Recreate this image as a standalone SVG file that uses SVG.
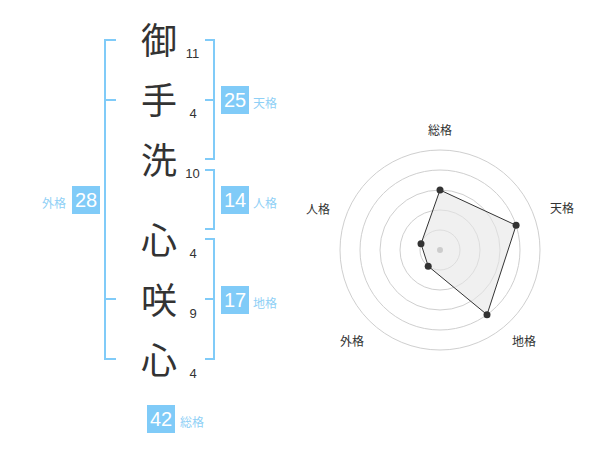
<svg xmlns="http://www.w3.org/2000/svg" width="600" height="470" viewBox="0 0 600 470">
<style>
.kj{font-family:"Noto Sans CJK JP","Noto Sans CJK SC",sans-serif;font-size:36px;fill:#333;text-anchor:middle}
.st{font-family:"Liberation Sans",Arial,sans-serif;font-size:13px;fill:#333;text-anchor:middle}
.br{fill:none;stroke:#80cbf8;stroke-width:2}
.box{fill:#80cbf8}
.bn{font-family:"Liberation Sans",Arial,sans-serif;font-size:20px;fill:#fff;text-anchor:middle}
.bl{font-family:"Noto Sans CJK JP","Noto Sans CJK SC",sans-serif;font-size:12px;fill:#8fd0f6}
.rl{font-family:"Noto Sans CJK JP","Noto Sans CJK SC",sans-serif;font-size:12px;fill:#333;text-anchor:middle}
.ring{fill:none;stroke:#cfcfcf;stroke-width:1}
.pt{fill:#333}
</style>
<rect width="600" height="470" fill="#fff"/>
<g id="chars">
<text class="kj" x="159" y="54">御</text>
<text class="kj" x="159" y="114">手</text>
<text class="kj" x="159" y="174">洗</text>
<text class="kj" x="159" y="254">心</text>
<text class="kj" x="159" y="314">咲</text>
<text class="kj" x="159" y="374">心</text>
<text class="st" x="192.5" y="58">11</text>
<text class="st" x="193" y="118">4</text>
<text class="st" x="192.5" y="178">10</text>
<text class="st" x="193" y="258">4</text>
<text class="st" x="193" y="318">9</text>
<text class="st" x="193" y="378">4</text>
</g>
<g id="connectors">
<path class="br" d="M116,40 H105 V359 H116 M105,100 H116 M105,299 H116"/>
<path class="br" d="M205,40 H214 V159 H205 M205,100 H214"/>
<path class="br" d="M205,170 H214 V229 H205"/>
<path class="br" d="M205,239 H214 V359 H205 M205,299 H214"/>
</g>
<g id="tenkaku">
<rect class="box" x="221" y="86" width="28" height="28"/>
<text class="bn" x="235" y="107.2">25</text>
<text class="bl" x="253" y="108">天格</text>
</g>
<g id="jinkaku">
<rect class="box" x="221" y="186" width="28" height="28"/>
<text class="bn" x="235" y="207.2">14</text>
<text class="bl" x="253" y="208">人格</text>
</g>
<g id="chikaku">
<rect class="box" x="221" y="286" width="28" height="28"/>
<text class="bn" x="235" y="307.2">17</text>
<text class="bl" x="253" y="308">地格</text>
</g>
<g id="gaikaku">
<rect class="box" x="72" y="186" width="28" height="28"/>
<text class="bn" x="86" y="207.2">28</text>
<text class="bl" x="66" y="208" text-anchor="end">外格</text>
</g>
<g id="soukaku">
<rect class="box" x="147" y="405" width="28" height="28"/>
<text class="bn" x="161" y="426.2">42</text>
<text class="bl" x="180" y="427">総格</text>
</g>
<g id="radar">
<circle class="ring" cx="440" cy="250" r="20"/>
<circle class="ring" cx="440" cy="250" r="40"/>
<circle class="ring" cx="440" cy="250" r="60"/>
<circle class="ring" cx="440" cy="250" r="80"/>
<circle class="ring" cx="440" cy="250" r="100"/>
<polygon points="440,190 516.1,225.3 487,314.7 428.2,266.2 421,243.8" fill="#e6e6e6" fill-opacity="0.6" stroke="#333" stroke-width="1"/>
<circle cx="440" cy="250" r="3" fill="#ccc"/>
<circle class="pt" cx="440" cy="190" r="3.5"/>
<circle class="pt" cx="516.1" cy="225.3" r="3.5"/>
<circle class="pt" cx="487" cy="314.7" r="3.5"/>
<circle class="pt" cx="428.2" cy="266.2" r="3.5"/>
<circle class="pt" cx="421" cy="243.8" r="3.5"/>
<text class="rl" x="440" y="135">総格</text>
<text class="rl" x="562" y="212.5">天格</text>
<text class="rl" x="524" y="345.5">地格</text>
<text class="rl" x="352" y="345.5">外格</text>
<text class="rl" x="318" y="213.5">人格</text>
</g>
</svg>
